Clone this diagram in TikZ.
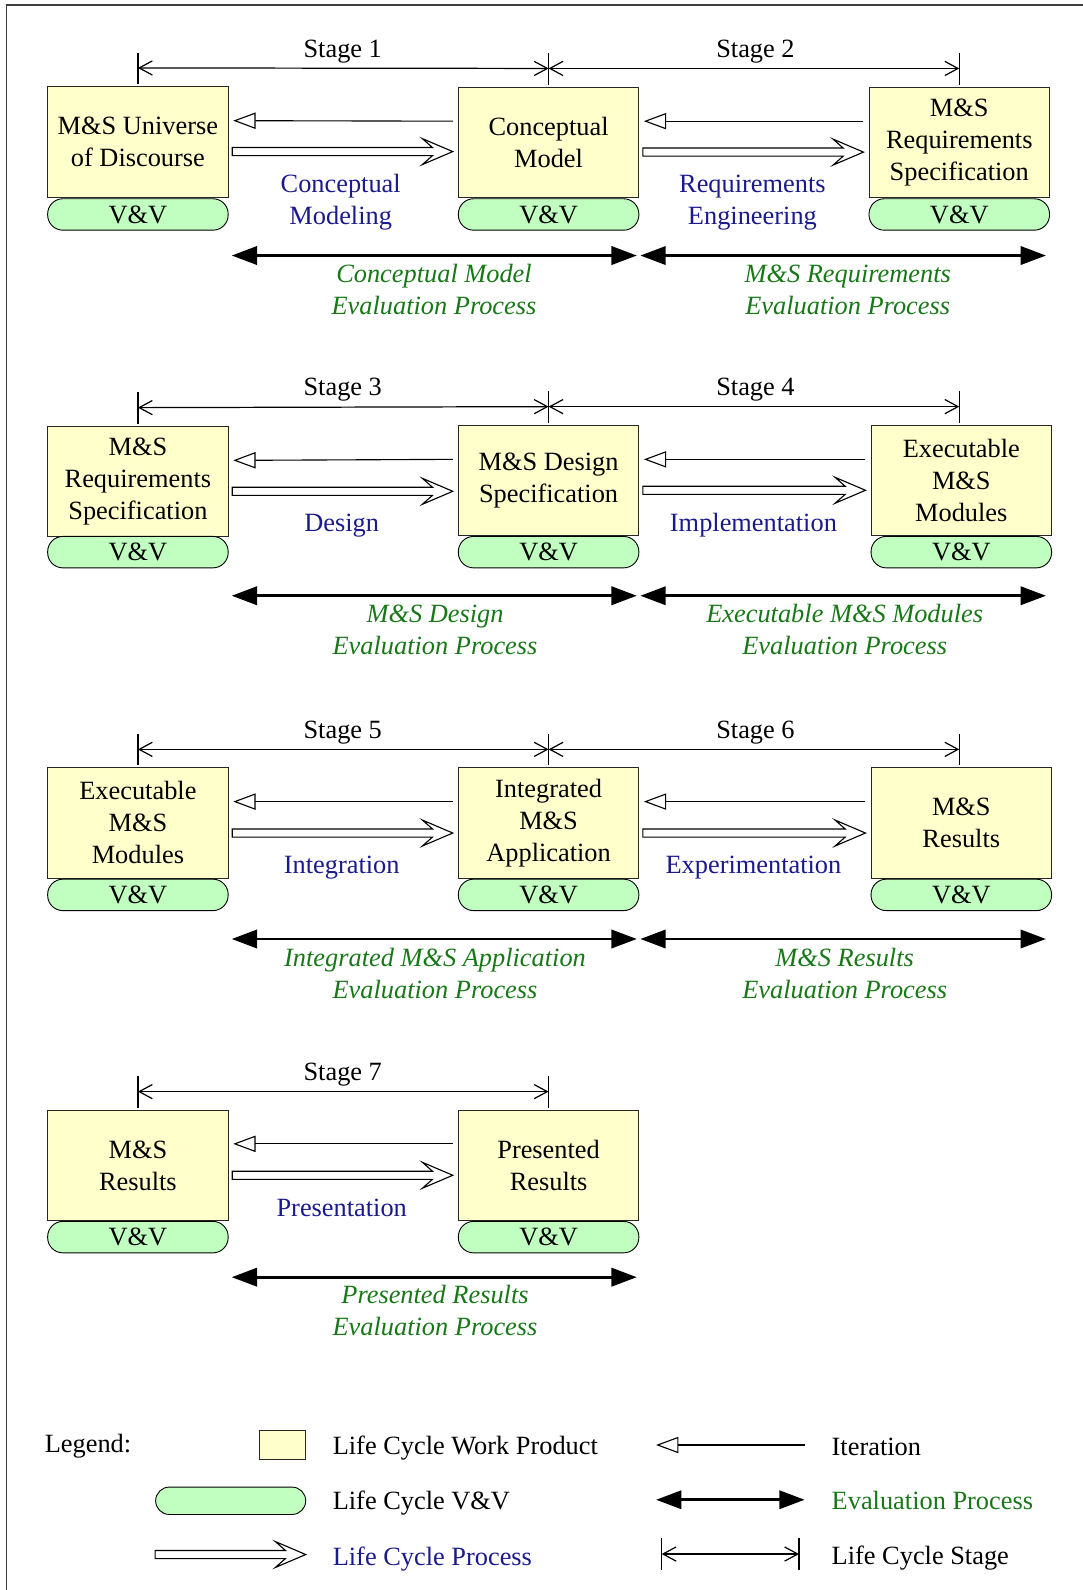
\documentclass[tikz,border=0pt]{standalone}
\usepackage{fontspec}
\setmainfont{Liberation Serif}
\usetikzlibrary{arrows.meta,calc}
\definecolor{wpfill}{RGB}{255,255,204}
\definecolor{vvfill}{RGB}{192,255,192}
\definecolor{procblue}{RGB}{26,26,140}
\definecolor{evalgreen}{RGB}{24,120,24}
\definecolor{framegray}{RGB}{60,60,60}
\tikzset{
 wp/.style={draw=black!85, fill=wpfill, line width=1pt, minimum width=178pt, minimum height=109pt, align=center, inner sep=0pt},
 vv/.style={draw=black, fill=vvfill, line width=0.9pt, rounded corners=15pt, minimum width=178pt, minimum height=31pt, inner sep=0pt},
 stagelbl/.style={inner sep=0pt},
 proclbl/.style={text=procblue, align=center, inner sep=0pt},
 evallbl/.style={text=evalgreen, font=\fontsize{26}{31.5}\selectfont\itshape, align=center, inner sep=0pt},
 legtxt/.style={anchor=west, inner sep=0pt},
 stagetick/.style={line width=1.2pt},
 stagearr/.style={line width=1.2pt, {Straight Barb[length=13pt,width=14pt]}-{Straight Barb[length=13pt,width=14pt]}},
 iterarr/.style={line width=1.1pt, -{Triangle[open,length=22pt,width=16pt]}},
 evalarr/.style={line width=2.8pt, {Triangle[length=25pt,width=18pt]}-{Triangle[length=25pt,width=18pt]}},
 procarr/.style={draw, fill=white, line width=1.1pt, line join=miter},
}
\newcommand\procarrow[2]{%
 \draw[procarr] let \p1=(#1), \p2=(#2) in
 (\x1,\y1+4pt) -- (\x2-20pt,\y1+4pt) -- (\x2-30pt,\y1+12.8pt) -- (\x2,\y1)
 -- (\x2-30pt,\y1-12.8pt) -- (\x2-20pt,\y1-4pt) -- (\x1,\y1-4pt) -- cycle;}
\begin{document}
\begin{tikzpicture}[x=1pt,y=-1pt,font=\fontsize{26}{31.5}\selectfont]
\useasboundingbox (0,0) rectangle (1068,1568);
\draw[framegray, line width=1.4pt] (6.6,1568) -- (6.6,5) -- (1068,5);

% ---------------- Row 1 ----------------
\node[wp] (A1) at (136,140) {M\&S Universe\\of Discourse};
\node[vv] (A1v) at (136,211.5) {V\&V};
\node[wp] (B1) at (541,140.5) {Conceptual\\Model};
\node[vv] (B1v) at (541,211.5) {V\&V};
\node[wp] (C1) at (946,140.5) {M\&S\\Requirements\\Specification};
\node[vv] (C1v) at (946,211.5) {V\&V};
\foreach \n in {A1,B1,C1} \draw[stagetick] ([yshift=2pt]\n.north) -- ([yshift=33pt]\n.north);
\draw[stagearr] ([yshift=18pt]A1.north) -- ([yshift=18pt]B1.north);
\draw[stagearr] ([yshift=18pt]B1.north) -- ([yshift=18pt]C1.north);
\node[stagelbl] (S1) at (338,51) {Stage 1};
\node[stagelbl] (S2) at (745,51) {Stage 2};
\draw[iterarr] ([xshift=-5pt,yshift=21pt]B1.west) -- ([xshift=4.5pt,yshift=21pt]A1.east);
\draw[iterarr] ([xshift=-5pt,yshift=21pt]C1.west) -- ([xshift=4.5pt,yshift=21pt]B1.east);
\procarrow{[xshift=3.5pt,yshift=-9.5pt]A1.east}{[xshift=-5pt,yshift=-9.5pt]B1.west}
\procarrow{[xshift=3.5pt,yshift=-9.5pt]B1.east}{[xshift=-5pt,yshift=-9.5pt]C1.west}
\node[proclbl] (P1) at (336,199.5) {Conceptual\\Modeling};
\node[proclbl] (P2) at (742,199.5) {Requirements\\Engineering};
\coordinate (E1a) at (228.5,252); \coordinate (E1b) at (628,252);
\coordinate (E1c) at (631.5,252); \coordinate (E1d) at (1031.5,252);
\draw[evalarr] (E1a) -- (E1b);
\draw[evalarr] (E1c) -- (E1d);
\node[evallbl] (V1) at (428,285.5) {Conceptual Model\\Evaluation Process};
\node[evallbl] (V2) at (836,285.5) {M\&S Requirements\\Evaluation Process};

% ---------------- Row 2 ----------------
\node[wp] (A2) at (136,475) {M\&S\\Requirements\\Specification};
\node[vv] (A2v) at (136,544.5) {V\&V};
\node[wp] (B2) at (541,474) {M\&S Design\\Specification};
\node[vv] (B2v) at (541,544.5) {V\&V};
\node[wp] (C2) at (948,474) {Executable\\M\&S\\Modules};
\node[vv] (C2v) at (948,544.5) {V\&V};
\foreach \n in {A2,B2} \draw[stagetick] ([yshift=2pt]\n.north) -- ([yshift=33pt]\n.north);
\draw[stagetick] ([xshift=-2pt,yshift=2pt]C2.north) -- ([xshift=-2pt,yshift=33pt]C2.north);
\draw[stagearr] ([yshift=18pt]A2.north) -- ([yshift=18pt]B2.north);
\draw[stagearr] ([yshift=18pt]B2.north) -- ([xshift=-2pt,yshift=18pt]C2.north);
\node[stagelbl] (S3) at (338,384) {Stage 3};
\node[stagelbl] (S4) at (745,384) {Stage 4};
\draw[iterarr] ([xshift=-5pt,yshift=21pt]B2.west) -- ([xshift=4.5pt,yshift=21pt]A2.east);
\draw[iterarr] ([xshift=-5pt,yshift=21pt]C2.west) -- ([xshift=4.5pt,yshift=21pt]B2.east);
\procarrow{[xshift=3.5pt,yshift=-9.5pt]A2.east}{[xshift=-5pt,yshift=-9.5pt]B2.west}
\procarrow{[xshift=3.5pt,yshift=-9.5pt]B2.east}{[xshift=-5pt,yshift=-9.5pt]C2.west}
\node[proclbl] (P3) at (337,518) {Design};
\node[proclbl] (P4) at (743,518) {Implementation};
\coordinate (E2a) at (228.5,587.5); \coordinate (E2b) at (628,587.5);
\coordinate (E2c) at (631.5,587.5); \coordinate (E2d) at (1031.5,587.5);
\draw[evalarr] (E2a) -- (E2b);
\draw[evalarr] (E2c) -- (E2d);
\node[evallbl] (V3) at (429,621) {M\&S Design\\Evaluation Process};
\node[evallbl] (V4) at (833,621) {Executable M\&S Modules\\Evaluation Process};

% ---------------- Row 3 ----------------
\node[wp] (A3) at (136,811.5) {Executable\\M\&S\\Modules};
\node[vv] (A3v) at (136,882.5) {V\&V};
\node[wp] (B3) at (541,811.5) {Integrated\\M\&S\\Application};
\node[vv] (B3v) at (541,882.5) {V\&V};
\node[wp] (C3) at (948,811.5) {M\&S\\Results};
\node[vv] (C3v) at (948,882.5) {V\&V};
\foreach \n in {A3,B3} \draw[stagetick] ([yshift=2pt]\n.north) -- ([yshift=33pt]\n.north);
\draw[stagetick] ([xshift=-2pt,yshift=2pt]C3.north) -- ([xshift=-2pt,yshift=33pt]C3.north);
\draw[stagearr] ([yshift=17.5pt]A3.north) -- ([yshift=17.5pt]B3.north);
\draw[stagearr] ([yshift=17.5pt]B3.north) -- ([xshift=-2pt,yshift=17.5pt]C3.north);
\node[stagelbl] (S5) at (338,722) {Stage 5};
\node[stagelbl] (S6) at (745,722) {Stage 6};
\draw[iterarr] ([xshift=-5pt,yshift=21pt]B3.west) -- ([xshift=4.5pt,yshift=21pt]A3.east);
\draw[iterarr] ([xshift=-5pt,yshift=21pt]C3.west) -- ([xshift=4.5pt,yshift=21pt]B3.east);
\procarrow{[xshift=3.5pt,yshift=-10pt]A3.east}{[xshift=-5pt,yshift=-10pt]B3.west}
\procarrow{[xshift=3.5pt,yshift=-10pt]B3.east}{[xshift=-5pt,yshift=-10pt]C3.west}
\node[proclbl] (P5) at (337,856) {Integration};
\node[proclbl] (P6) at (743,856) {Experimentation};
\coordinate (E3a) at (228.5,926); \coordinate (E3b) at (628,926);
\coordinate (E3c) at (631.5,926); \coordinate (E3d) at (1031.5,926);
\draw[evalarr] (E3a) -- (E3b);
\draw[evalarr] (E3c) -- (E3d);
\node[evallbl] (V5) at (429,960) {Integrated M\&S Application\\Evaluation Process};
\node[evallbl] (V6) at (833,960) {M\&S Results\\Evaluation Process};

% ---------------- Row 4 ----------------
\node[wp] (A4) at (136,1149.5) {M\&S\\Results};
\node[vv] (A4v) at (136,1220) {V\&V};
\node[wp] (B4) at (541,1149.5) {Presented\\Results};
\node[vv] (B4v) at (541,1220) {V\&V};
\foreach \n in {A4,B4} \draw[stagetick] ([yshift=2pt]\n.north) -- ([yshift=33pt]\n.north);
\draw[stagearr] ([yshift=18pt]A4.north) -- ([yshift=18pt]B4.north);
\node[stagelbl] (S7) at (338,1060) {Stage 7};
\draw[iterarr] ([xshift=-5pt,yshift=21.5pt]B4.west) -- ([xshift=4.5pt,yshift=21.5pt]A4.east);
\procarrow{[xshift=3.5pt,yshift=-9.5pt]A4.east}{[xshift=-5pt,yshift=-9.5pt]B4.west}
\node[proclbl] (P7) at (337,1191) {Presentation};
\coordinate (E4a) at (228.5,1259.5); \coordinate (E4b) at (628,1259.5);
\draw[evalarr] (E4a) -- (E4b);
\node[evallbl] (V7) at (429,1292.5) {Presented Results\\Evaluation Process};

% ---------------- Legend ----------------
\node[legtxt] (Lg) at (44,1426) {Legend:};
\node[wp, minimum width=45pt, minimum height=28pt] (Lwp) at (278.5,1425) {};
\node[legtxt] (Lwpt) at (328,1428.5) {Life Cycle Work Product};
\node[vv, minimum width=148pt, minimum height=27pt, rounded corners=13.5pt] (Lvv) at (227.5,1480) {};
\node[legtxt] (Lvvt) at (328,1482) {Life Cycle V\&V};
\coordinate (Lp1) at (153,1533); \coordinate (Lp2) at (301.5,1533);
\procarrow{Lp1}{Lp2}
\node[legtxt, text=procblue] (Lpt) at (328,1537) {Life Cycle Process};
\coordinate (Li1) at (793.5,1425); \coordinate (Li2) at (647,1425);
\draw[iterarr] (Li1) -- (Li2);
\node[legtxt] (Lit) at (820,1427) {Iteration};
\coordinate (Le1) at (647,1479); \coordinate (Le2) at (793.5,1479);
\draw[evalarr] (Le1) -- (Le2);
\node[legtxt, text=evalgreen] (Let) at (820,1480) {Evaluation Process};
\coordinate (Ls1) at (652.5,1532.5); \coordinate (Ls2) at (788,1532.5);
\draw[stagetick] ([yshift=15.5pt]Ls1) -- ([yshift=-15.5pt]Ls1);
\draw[stagetick] ([yshift=15.5pt]Ls2) -- ([yshift=-15.5pt]Ls2);
\draw[stagearr] (Ls1) -- (Ls2);
\draw[line width=2.6pt] (718.5,1532.5) -- (728.5,1532.5);
\node[legtxt] (Lst) at (820,1536) {Life Cycle Stage};
\end{tikzpicture}
\end{document}
